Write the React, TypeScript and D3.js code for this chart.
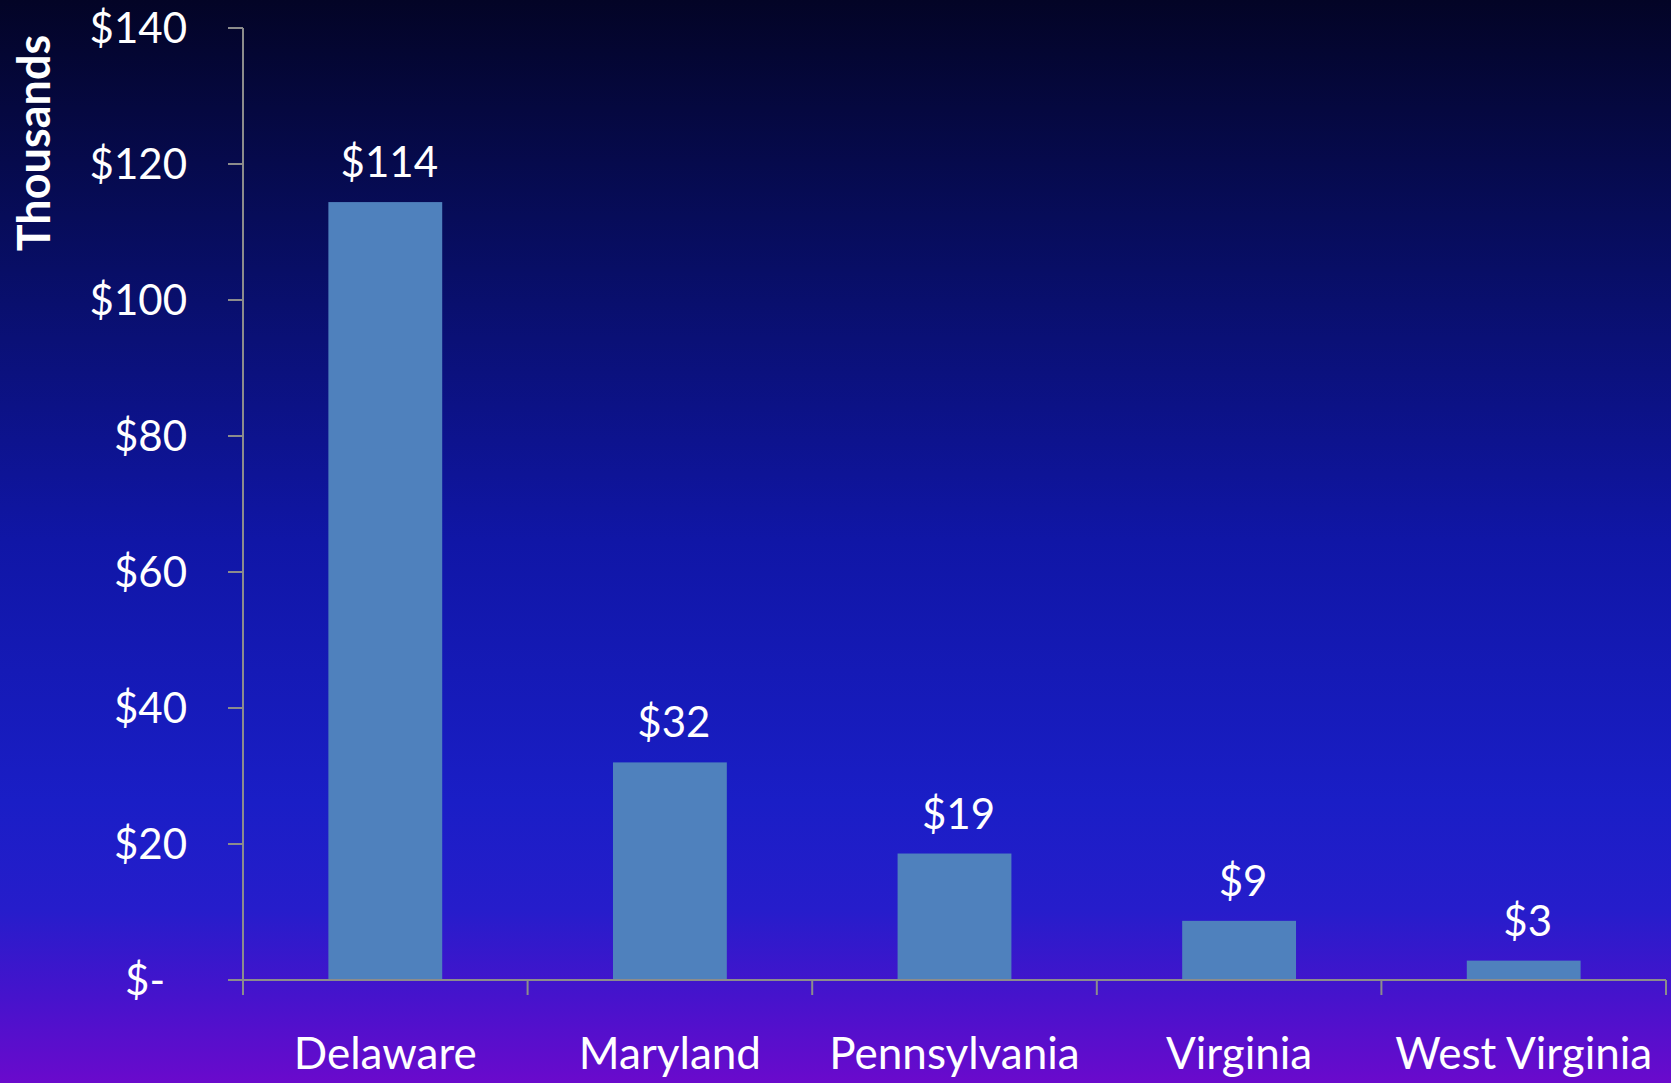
import React from "react";
import * as d3 from "d3";

const categories = ["Delaware", "Maryland", "Pennsylvania", "Virginia", "West Virginia"];
const values = [114.4, 32.0, 18.6, 8.7, 2.85];
const valueLabels = ["$114", "$32", "$19", "$9", "$3"];
const yTicks = [0, 20, 40, 60, 80, 100, 120, 140];
const yTickLabels = ["$-", "$20", "$40", "$60", "$80", "$100", "$120", "$140"];
const yAxisTitle = "Thousands";

const W = 1671;
const H = 1083;
const FONT = "Lato, 'Open Sans', sans-serif";

export default function App() {
  const left = 243;
  const right = 1666;
  const top = 28;
  const bottom = 980;

  const x = d3.scaleBand<string>().domain(categories).range([left, right]).paddingInner(0.6).paddingOuter(0.3);
  const xb = d3.scaleBand<string>().domain(categories).range([left, right]);
  const y = d3.scaleLinear().domain([0, 140]).range([bottom, top]);

  return (
    <div style={{ position: "absolute", left: 0, top: 0 }}>
      <svg width={W} height={H} style={{ display: "block" }}>
        <defs>
          <linearGradient id="bg" x1="0" y1="0" x2="0" y2="1">
            <stop offset="0" stopColor="#030426" />
            <stop offset="0.25" stopColor="#080e66" />
            <stop offset="0.5" stopColor="#1016a6" />
            <stop offset="0.74" stopColor="#1a1ec6" />
            <stop offset="0.84" stopColor="#261dcb" />
            <stop offset="0.92" stopColor="#4613cc" />
            <stop offset="1" stopColor="#6a0acc" />
          </linearGradient>
        </defs>
        <rect x={0} y={0} width={W} height={H} fill="url(#bg)" />

        {categories.map((c, i) => (
          <rect
            key={c}
            x={x(c)}
            y={y(values[i])}
            width={x.bandwidth()}
            height={y(0) - y(values[i])}
            fill="#4f81bd"
          />
        ))}

        {/* y axis */}
        <line x1={left} x2={left} y1={top} y2={bottom} stroke="#8c8c8c" strokeWidth={2} />
        {yTicks.map((t, i) => (
          <g key={t}>
            <line x1={left - 15} x2={left} y1={y(t)} y2={y(t)} stroke="#8c8c8c" strokeWidth={2} />
            <text
              x={t === 0 ? 165 : 187}
              y={y(t)}
              dy="0.36em"
              textAnchor="end"
              fill="#ffffff"
              fontFamily={FONT}
              fontSize={42}
            >
              {yTickLabels[i]}
            </text>
          </g>
        ))}

        {/* x axis */}
        <line x1={left - 15} x2={right} y1={bottom} y2={bottom} stroke="#8c8c8c" strokeWidth={2} />
        {categories.map((c) => (
          <line key={"t" + c} x1={xb(c)} x2={xb(c)} y1={bottom} y2={bottom + 15} stroke="#8c8c8c" strokeWidth={2} />
        ))}
        <line x1={right} x2={right} y1={bottom} y2={bottom + 15} stroke="#8c8c8c" strokeWidth={2} />

        {categories.map((c) => (
          <text
            key={"l" + c}
            x={(xb(c) as number) + xb.bandwidth() / 2}
            y={1069}
            textAnchor="middle"
            fill="#ffffff"
            fontFamily={FONT}
            fontSize={44}
          >
            {c}
          </text>
        ))}

        {categories.map((c, i) => (
          <text
            key={"v" + c}
            x={(x(c) as number) + x.bandwidth() / 2 + 4}
            y={y(values[i]) - 25}
            textAnchor="middle"
            fill="#ffffff"
            fontFamily={FONT}
            fontSize={42}
          >
            {valueLabels[i]}
          </text>
        ))}

        <text
          transform="translate(50,143) rotate(-90)"
          textAnchor="middle"
          fill="#ffffff"
          fontFamily={FONT}
          fontWeight="bold"
          fontSize={45}
        >
          {yAxisTitle}
        </text>
      </svg>
    </div>
  );
}
